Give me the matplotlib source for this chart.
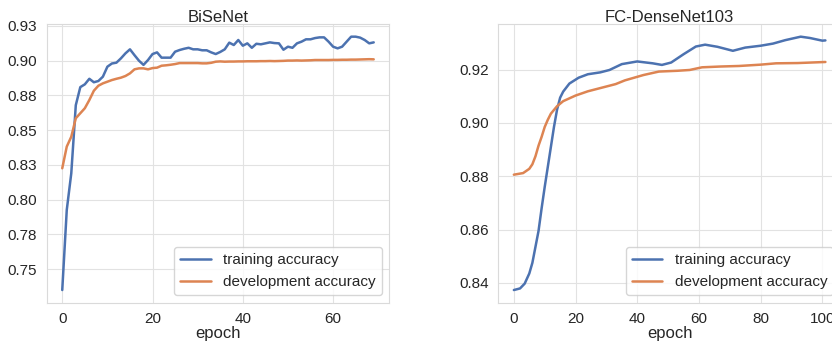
import matplotlib
matplotlib.use('Agg')
import matplotlib.pyplot as plt
import seaborn as sns

# BiSeNet, one value per epoch (0..69)
bisenet_train = [0.735, 0.7926, 0.819, 0.868, 0.881, 0.883, 0.887, 0.8845, 0.8854, 0.8885,
                 0.8957, 0.898, 0.8986, 0.9017, 0.9053, 0.9082, 0.904, 0.900, 0.897, 0.9005,
                 0.9048, 0.906, 0.9022, 0.9022, 0.9022, 0.9065, 0.9077, 0.9086, 0.9093, 0.9082,
                 0.9082, 0.9075, 0.9075, 0.906, 0.9048, 0.9063, 0.9082, 0.913, 0.9113, 0.9149,
                 0.9108, 0.9125, 0.9093, 0.9122, 0.9118, 0.9125, 0.9132, 0.9127, 0.9125, 0.9079,
                 0.9101, 0.9093, 0.9125, 0.9137, 0.9154, 0.9154, 0.9163, 0.9168, 0.9168, 0.9137,
                 0.9101, 0.9089, 0.9101, 0.9137, 0.9173, 0.9173, 0.9166, 0.9149, 0.9125, 0.9132]
bisenet_dev = [0.8226, 0.8382, 0.8453, 0.8586, 0.8622, 0.8658, 0.8717, 0.8784, 0.882, 0.8837,
               0.8849, 0.8861, 0.887, 0.8878, 0.889, 0.8909, 0.8938, 0.8945, 0.8945, 0.8938,
               0.8947, 0.895, 0.8964, 0.8967, 0.8971, 0.8976, 0.8983, 0.8983, 0.8983, 0.8983,
               0.8983, 0.8981, 0.8981, 0.8985, 0.8993, 0.8995, 0.8993, 0.8994, 0.8994, 0.8995,
               0.8995, 0.8996, 0.8996, 0.8996, 0.8997, 0.8997, 0.8998, 0.8997, 0.8998, 0.8999,
               0.9001, 0.9001, 0.9002, 0.9001, 0.9002, 0.9003, 0.9005, 0.9005, 0.9005, 0.9005,
               0.9006, 0.9006, 0.9007, 0.9007, 0.9008, 0.9008, 0.9009, 0.901, 0.9011, 0.901]

# FC-DenseNet103, read at selected epochs
fc_train_epochs = [0, 2, 3.5, 5, 6, 7, 8, 9, 10, 11, 12, 13, 14, 15, 16, 18, 21, 24, 28, 31,
                   35, 40, 45, 48, 51, 55, 59, 62, 66, 71, 75, 80, 84, 88, 93, 96, 100, 101]
fc_train = [0.8373, 0.8379, 0.8397, 0.8435, 0.8475, 0.8535, 0.8595, 0.868, 0.876, 0.8835,
            0.891, 0.8985, 0.905, 0.9095, 0.9118, 0.9148, 0.917, 0.9183, 0.919, 0.9199,
            0.9221, 0.9231, 0.9224, 0.9218, 0.9227, 0.9258, 0.9287, 0.9294, 0.9286, 0.9271,
            0.9283, 0.929, 0.9298, 0.9311, 0.9324, 0.9319, 0.9309, 0.931]
fc_dev_epochs = [0, 3, 5, 6, 7, 8, 9, 10, 11, 12, 14, 16, 20, 24, 29, 33, 36, 42, 47, 53,
                 57, 61, 67, 73, 80, 85, 92, 101]
fc_dev = [0.8806, 0.8812, 0.8828, 0.8845, 0.8875, 0.8915, 0.8948, 0.8985, 0.9012, 0.9035,
          0.9063, 0.9082, 0.9103, 0.9119, 0.9134, 0.9146, 0.916, 0.918, 0.9193, 0.9196,
          0.9199, 0.9209, 0.9212, 0.9214, 0.9219, 0.9224, 0.9225, 0.9229]

bisenet_yticks = [0.75, 0.775, 0.80, 0.825, 0.85, 0.875, 0.90, 0.925]
bisenet_ylabels = ['0.75', '0.78', '0.80', '0.83', '0.85', '0.88', '0.90', '0.93']
fc_yticks = [0.84, 0.86, 0.88, 0.90, 0.92]
fc_ylabels = ['0.84', '0.86', '0.88', '0.90', '0.92']

sns.set_style('whitegrid', {'grid.color': '#e2e2e2', 'axes.edgecolor': '#dadada'})
plt.rcParams['font.family'] = ['Liberation Sans', 'DejaVu Sans']
plt.rcParams['font.size'] = 11

blue = '#4C72B0'
orange = '#DD8452'

fig = plt.figure(figsize=(8.32, 3.41), dpi=100)
ax1 = fig.add_axes([0.0561, 0.1123, 0.4118, 0.8173])
ax2 = fig.add_axes([0.5989, 0.1123, 0.4119, 0.8173])

#Left: BiSeNet
ax1.plot(range(len(bisenet_train)), bisenet_train, color=blue, lw=1.8, label='training accuracy')
ax1.plot(range(len(bisenet_dev)), bisenet_dev, color=orange, lw=1.8, label='development accuracy')
ax1.set_yticks(bisenet_yticks)
ax1.set_yticklabels(bisenet_ylabels)
ax1.set_xticks([0, 20, 40, 60])
ax1.set_title('BiSeNet', fontsize=12, pad=1.5)

#Right: FC-DenseNet103
ax2.plot(fc_train_epochs, fc_train, color=blue, lw=1.8, label='training accuracy')
ax2.plot(fc_dev_epochs, fc_dev, color=orange, lw=1.8, label='development accuracy')
ax2.set_yticks(fc_yticks)
ax2.set_yticklabels(fc_ylabels)
ax2.set_xticks([0, 20, 40, 60, 80, 100])
ax2.set_title('FC-DenseNet103', fontsize=12, pad=1.5)

for ax in (ax1, ax2):
    ax.set_xlabel('epoch', fontsize=12, labelpad=0)
    ax.tick_params(labelsize=11)
    ax.legend(loc='lower right', fontsize=11)

fig.savefig('out.png', dpi=100)
